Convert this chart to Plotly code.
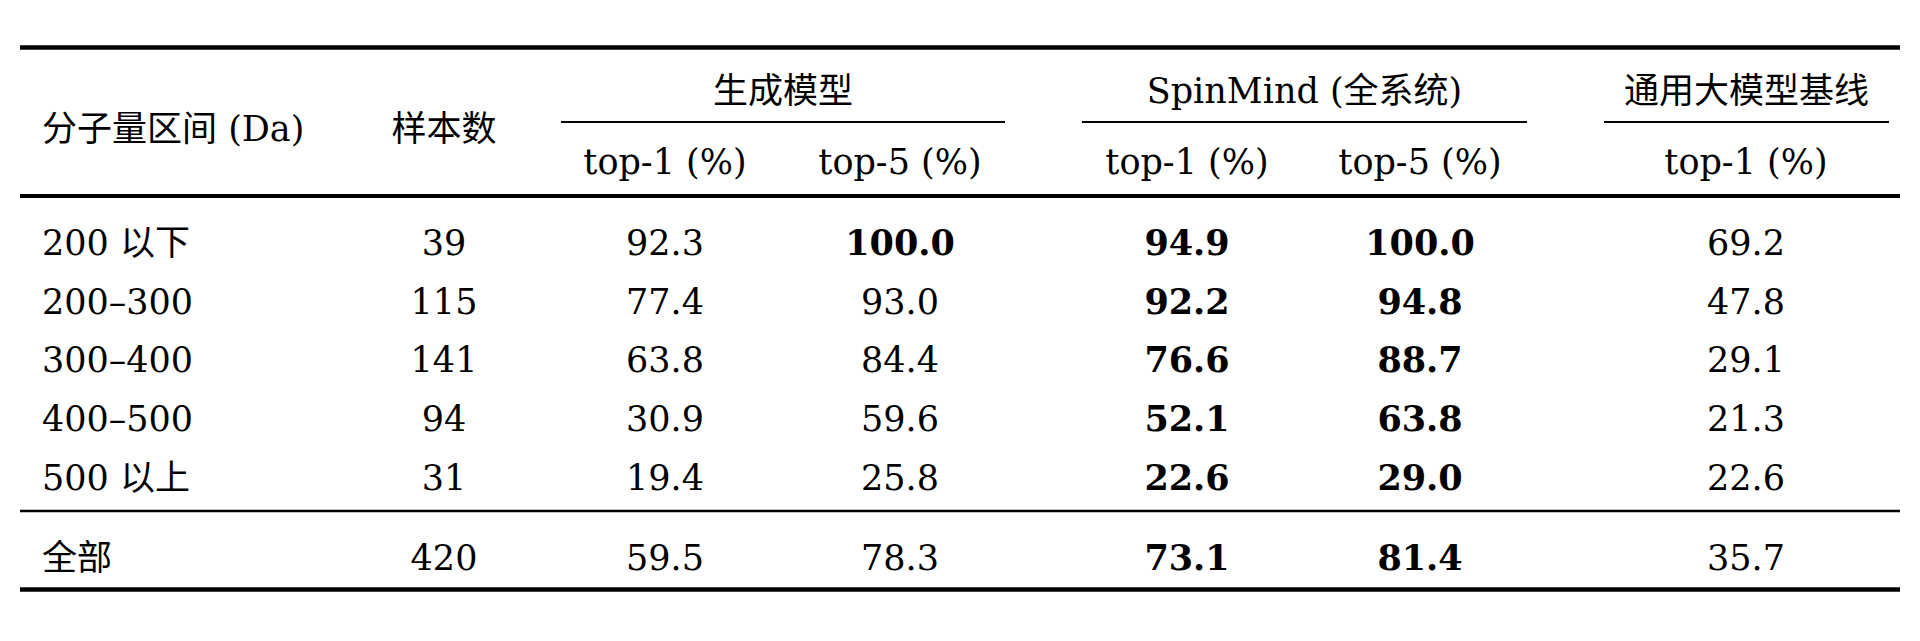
import plotly.graph_objects as go

# 数据：分子量区间分组的 top-k 准确率
categories = ["200 以下", "200–300", "300–400", "400–500", "500 以上", "全部"]
samples = [39, 115, 141, 94, 31, 420]
gen_top1 = [92.3, 77.4, 63.8, 30.9, 19.4, 59.5]
gen_top5 = [100.0, 93.0, 84.4, 59.6, 25.8, 78.3]
spin_top1 = [94.9, 92.2, 76.6, 52.1, 22.6, 73.1]
spin_top5 = [100.0, 94.8, 88.7, 63.8, 29.0, 81.4]
base_top1 = [69.2, 47.8, 29.1, 21.3, 22.6, 35.7]

group_headers = ["生成模型", "SpinMind (全系统)", "通用大模型基线"]
sub_headers = ["top-1 (%)", "top-5 (%)", "top-1 (%)", "top-5 (%)", "top-1 (%)"]
first_headers = ["分子量区间 (Da)", "样本数"]

# 版式（像素坐标）
W, H = 1920, 641
OFF = 8  # 页面 body 的默认边距
FONT = "DejaVu Serif, Noto Sans CJK SC"
SIZE = 35
x_left, x_right = 20, 1900
x_label = 42
x_cols = [444, 665, 900, 1187, 1420, 1746]
group_spans = [(561, 1005), (1082, 1527), (1604, 1889)]
y_top, y_group, y_cmid, y_head1, y_head2, y_mid = 47.5, 94.5, 122, 132, 165, 196
y_rows = [246.5, 305, 363.5, 422, 481, 561]
y_sep, y_bottom = 511, 589.5


def fmt(v, bold):
    s = f"{v:.1f}"
    return f"<b>{s}</b>" if bold else s


fig = go.Figure()

# 第一列（左对齐）
fig.add_trace(go.Scatter(
    x=[x_label] * (len(categories) + 1),
    y=[y_head1] + y_rows,
    text=[first_headers[0]] + categories,
    mode="text", textposition="middle right",
    textfont=dict(family=FONT, size=SIZE, color="black"),
    hoverinfo="skip", showlegend=False,
))

# 数值列
cols = [
    [str(v) for v in samples],
    [fmt(a, a >= b) for a, b in zip(gen_top1, spin_top1)],
    [fmt(a, a >= b) for a, b in zip(gen_top5, spin_top5)],
    [fmt(b, b >= a) for a, b in zip(gen_top1, spin_top1)],
    [fmt(b, b >= a) for a, b in zip(gen_top5, spin_top5)],
    [fmt(v, False) for v in base_top1],
]
xs, ys, ts = [], [], []
for x, col in zip(x_cols, cols):
    xs += [x] * len(col)
    ys += y_rows
    ts += col
# 表头
xs += [x_cols[0]]; ys += [y_head1]; ts += [first_headers[1]]
for (a, b), h in zip(group_spans, group_headers):
    xs.append((a + b) / 2); ys.append(y_group); ts.append(h)
for x, h in zip(x_cols[1:], sub_headers):
    xs.append(x); ys.append(y_head2); ts.append(h)

fig.add_trace(go.Scatter(
    x=xs, y=ys, text=ts,
    mode="text", textposition="middle center",
    textfont=dict(family=FONT, size=SIZE, color="black"),
    hoverinfo="skip", showlegend=False,
))

# 三线表横线
shapes = []
for y, w in [(y_top, 4.5), (y_mid, 4), (y_sep, 2.5), (y_bottom, 4.5)]:
    shapes.append(dict(type="line", xref="x", yref="y", x0=x_left, x1=x_right,
                       y0=y, y1=y, line=dict(color="black", width=w)))
for a, b in group_spans:
    shapes.append(dict(type="line", xref="x", yref="y", x0=a, x1=b,
                       y0=y_cmid, y1=y_cmid, line=dict(color="black", width=2)))

fig.update_layout(
    width=W, height=H, autosize=False,
    margin=dict(l=0, r=0, t=0, b=0),
    paper_bgcolor="white", plot_bgcolor="white",
    shapes=shapes,
    xaxis=dict(range=[OFF, W + OFF], visible=False, fixedrange=True),
    yaxis=dict(range=[H + OFF, OFF], visible=False, fixedrange=True),
)

fig.write_html("out.html")
